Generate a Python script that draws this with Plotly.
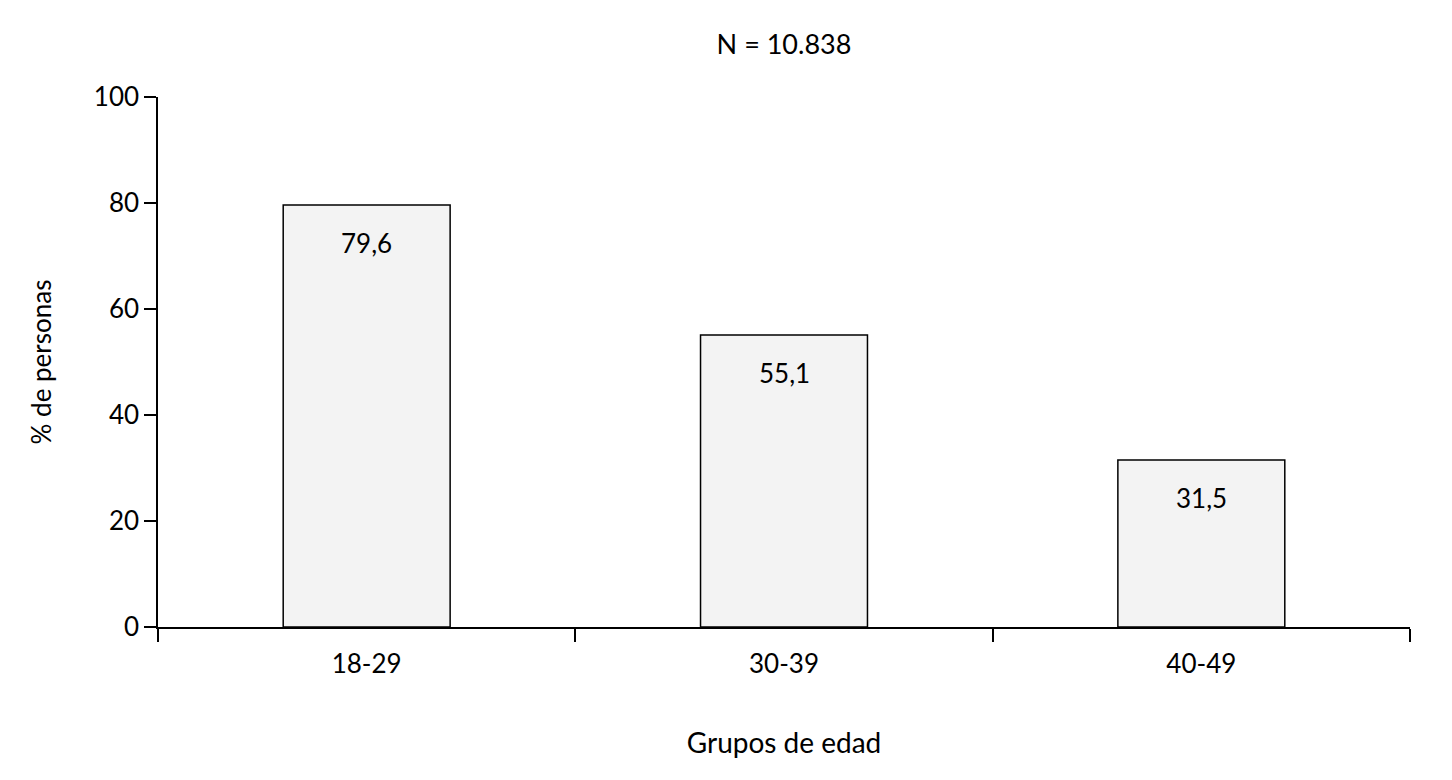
import plotly.graph_objects as go

categories = ["18-29", "30-39", "40-49"]
values = [79.6, 55.1, 31.5]
y_ticks = [0, 20, 40, 60, 80, 100]
title_text = "N = 10.838"
x_title = "Grupos de edad"
y_title = "% de personas"

FONT = "Lato"
W, H = 1436, 764  # page body has an 8px margin

fig = go.Figure()
fig.add_trace(go.Bar(
    x=categories, y=values, width=0.4,
    marker=dict(color="#f3f3f3", line=dict(color="black", width=1.5)),
    hoverinfo="x+y",
))

for c, v in zip(categories, values):
    fig.add_annotation(
        x=c, y=v, text=f"{v:.1f}".replace(".", ","), showarrow=False,
        yanchor="top", yshift=-20, font=dict(family=FONT, size=26, color="black"),
    )

fig.update_layout(
    width=W, height=H,
    margin=dict(l=150, r=W - 1402, t=89, b=H - 619, autoexpand=False),
    plot_bgcolor="white", paper_bgcolor="white",
    font=dict(family=FONT, size=26, color="black"),
    title=dict(text=title_text, x=0.5, xref="paper", xanchor="center",
               y=1 - 37 / H, yref="container", yanchor="middle",
               font=dict(family=FONT, size=27, color="black")),
    showlegend=False,
    bargap=0.6,
)
fig.update_xaxes(
    type="category", range=[-0.5, 2.5], tickson="boundaries",
    showline=True, linecolor="black", linewidth=1.5,
    ticks="outside", ticklen=13, tickwidth=1.5, tickcolor="black",
    ticklabelstandoff=13,
    showgrid=False, zeroline=False, automargin=False,
    title=dict(text=x_title, standoff=55, font=dict(family=FONT, size=28)),
    tickfont=dict(family=FONT, size=26),
)
fig.update_yaxes(
    range=[0, 100], tickvals=y_ticks,
    showline=True, linecolor="black", linewidth=1.5,
    ticks="outside", ticklen=12, tickwidth=1.5, tickcolor="black",
    showgrid=False, zeroline=False, automargin=False,
    title=dict(text=y_title, standoff=35, font=dict(family=FONT, size=26)),
    tickfont=dict(family=FONT, size=26),
)

fig.write_html("out.html")
